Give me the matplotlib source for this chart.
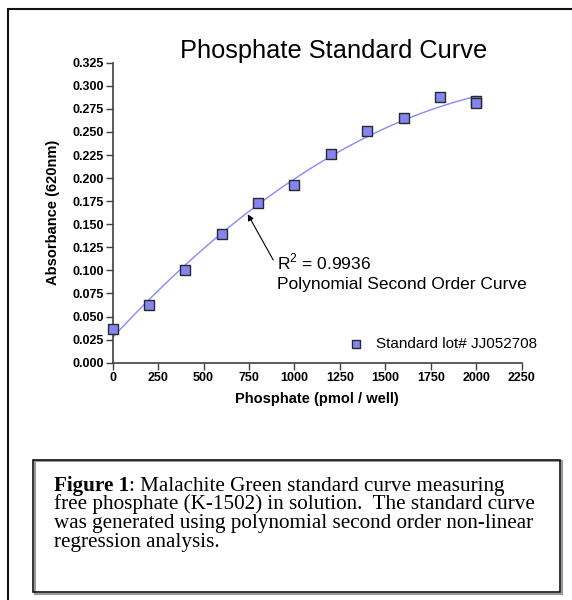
import numpy as np
import matplotlib.pyplot as plt
from matplotlib.patches import Rectangle

# values
phosphate = [0, 200, 400, 600, 800, 1000, 1200, 1400, 1600, 1800, 2000, 2000]
absorbance = [0.037, 0.062, 0.100, 0.139, 0.173, 0.192, 0.226, 0.251, 0.265, 0.288, 0.284, 0.281]
x_ticks = [0, 250, 500, 750, 1000, 1250, 1500, 1750, 2000, 2250]
y_ticks = [0.000, 0.025, 0.050, 0.075, 0.100, 0.125, 0.150, 0.175, 0.200,
           0.225, 0.250, 0.275, 0.300, 0.325]
r2_text = 'R$^{2}$ = 0.9936'
fit_text = 'Polynomial Second Order Curve'
legend_label = 'Standard lot# JJ052708'
caption_lines = ['free phosphate (K-1502) in solution.  The standard curve',
                 'was generated using polynomial second order non-linear',
                 'regression analysis.']

plt.rcParams['font.family'] = ['Liberation Sans', 'DejaVu Sans']
plt.rcParams['mathtext.fontset'] = 'custom'
plt.rcParams['mathtext.rm'] = 'Liberation Sans'

W, H = 572, 600
fig = plt.figure(figsize=(W / 100, H / 100), dpi=100)
ax = fig.add_axes([112.7 / W, 1 - 362.7 / H, 409 / W, 300 / H])

# second order polynomial fit through the points
coef = np.polyfit(phosphate, absorbance, 2)
xs = np.linspace(0, 2000, 200)
ax.plot(xs, np.polyval(coef, xs), color='#8888ff', lw=1, zorder=2)

ax.scatter(phosphate, absorbance, marker='s', s=42, c='#8585f2',
           edgecolors='#2a2a2a', linewidths=1, zorder=3, clip_on=False,
           label=legend_label)

ax.set_xlim(0, 2250)
ax.set_ylim(0, 0.325)
ax.set_xticks(x_ticks)
ax.set_yticks(y_ticks)
ax.set_yticklabels(['%.3f' % v for v in y_ticks])
for s in ['top', 'right']:
    ax.spines[s].set_visible(False)
for s in ['left', 'bottom']:
    ax.spines[s].set_color('#404040')
    ax.spines[s].set_linewidth(1.2)
ax.tick_params(direction='out', length=5, width=1, color='#404040', pad=1.5,
               labelsize=9)
for lab in ax.get_xticklabels() + ax.get_yticklabels():
    lab.set_fontweight('bold')

ax.set_xlabel('Phosphate (pmol / well)', fontsize=10.5, fontweight='bold', labelpad=6)
ax.set_ylabel('Absorbance (620nm)', fontsize=10.5, fontweight='bold', labelpad=9)

fig.text(334 / W, 1 - 58 / H, 'Phosphate Standard Curve', fontsize=18.3,
         ha='center', va='baseline')

# annotation with arrow
ax.annotate('', xy=(743, 0.1608), xytext=(883, 0.1113),
            arrowprops=dict(arrowstyle='-|>', color='black', lw=0.8,
                            mutation_scale=9, shrinkA=0, shrinkB=0))
ax.text(902, 0.1015, r2_text, fontsize=12.5, va='baseline')
ax.text(902, 0.0798, fit_text, fontsize=12.5, va='baseline')

ax.legend(loc='center right', bbox_to_anchor=(537 / W, 1 - 344 / H),
          bbox_transform=fig.transFigure, frameon=False, borderpad=0,
          borderaxespad=0, handlelength=1.0, handletextpad=0.8,
          fontsize=11, scatterpoints=1, markerscale=0.8)

# outer frame (cut off at right and bottom)
fig.patches.append(Rectangle((8 / W, -0.1), 1.2, 1.1 - 9 / H,
                             transform=fig.transFigure, fill=False,
                             ec='#111111', lw=1.5))

# caption box with shadow
fig.patches.append(Rectangle((35 / W, 1 - 594 / H), 527 / W, 133 / H,
                             transform=fig.transFigure, fill=False,
                             ec='#999999', lw=1.5))
fig.patches.append(Rectangle((33 / W, 1 - 592 / H), 527 / W, 132 / H,
                             transform=fig.transFigure, fill=False,
                             ec='#111111', lw=1.2))

cap_size = 15.2
serif = ['Liberation Serif', 'DejaVu Serif']
first_base = 490.5
t1 = fig.text(54 / W, 1 - first_base / H, 'Figure 1', fontsize=cap_size,
              family=serif, fontweight='bold', va='baseline')
ax.annotate(': Malachite Green standard curve measuring', xy=(1, 0),
            xycoords=t1, fontsize=cap_size, family=serif, va='bottom',
            annotation_clip=False)
for i, line in enumerate(caption_lines):
    fig.text(54 / W, 1 - (first_base + 18.7 * (i + 1)) / H, line,
             fontsize=cap_size, family=serif, va='baseline')

fig.savefig('out.png', dpi=100)
